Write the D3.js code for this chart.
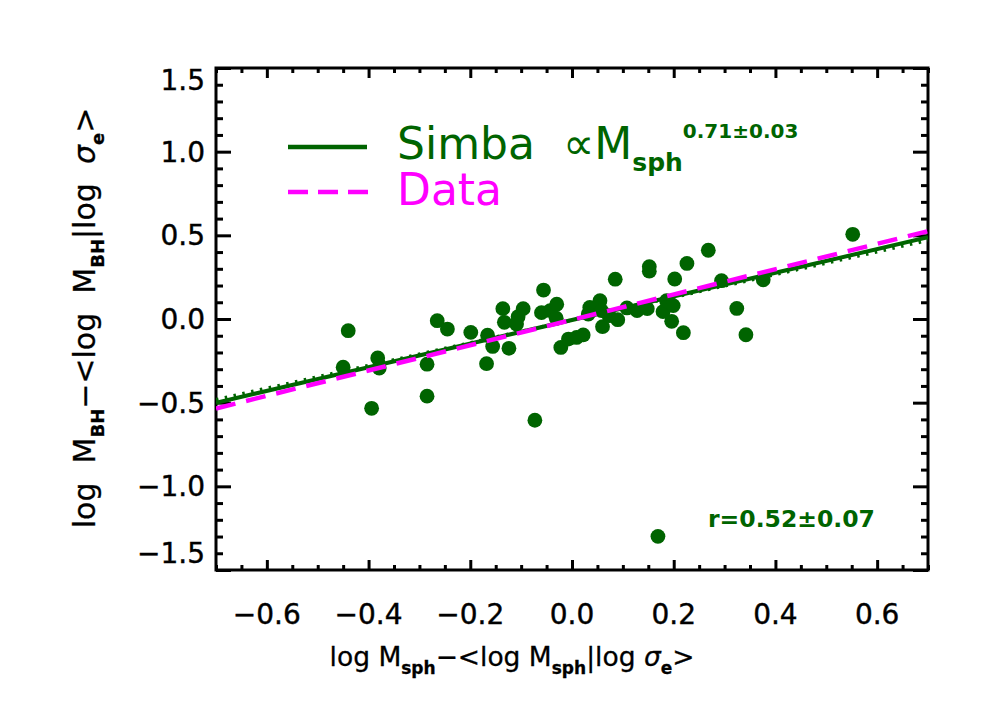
<!DOCTYPE html>
<html><head><meta charset="utf-8">
<script src="https://cdn.jsdelivr.net/npm/d3@7"></script>
<style>
body{margin:0;background:#fff}
text{font-family:"DejaVu Sans",sans-serif;white-space:pre}
</style>
</head><body>
<svg id="chart" width="992" height="708"></svg>
<script>
// ---- data ----
const xValues = [-0.450,-0.440,-0.382,-0.379,-0.394,-0.285,-0.285,-0.265,-0.245,-0.199,
  -0.166,-0.156,-0.168,-0.136,-0.133,-0.124,-0.106,-0.096,-0.109,-0.056,
  -0.060,-0.043,-0.030,-0.031,-0.073,-0.022,-0.007,0.009,0.022,0.035,
  0.032,0.055,0.058,0.060,0.073,0.085,0.090,0.108,0.128,0.148,
  0.152,0.152,0.179,0.186,0.199,0.196,0.202,0.219,0.226,0.268,
  0.294,0.324,0.342,0.376,0.552,0.169];
const yValues = [-0.288,-0.070,-0.233,-0.293,-0.534,-0.270,-0.461,-0.010,-0.060,-0.080,
  -0.097,-0.164,-0.267,0.062,-0.020,-0.175,0.014,0.062,-0.030,0.173,
  0.038,0.050,0.088,0.005,-0.605,-0.170,-0.120,-0.110,-0.095,0.069,
  0.030,0.109,0.050,-0.046,0.020,0.238,-0.004,0.066,0.050,0.062,
  0.313,0.286,0.044,0.109,0.080,-0.014,0.239,-0.082,0.332,0.411,
  0.229,0.063,-0.094,0.234,0.506,-1.299];
const xTickValues = [-0.6,-0.4,-0.2,0.0,0.2,0.4,0.6];
const xTickLabels = ["\u22120.6","\u22120.4","\u22120.2","0.0","0.2","0.4","0.6"];
const yTickValues = [-1.5,-1.0,-0.5,0.0,0.5,1.0,1.5];
const yTickLabels = ["\u22121.5","\u22121.0","\u22120.5","0.0","0.5","1.0","1.5"];
const fitNames = ["Simba","Simba (dotted)","Data"];
const fitSlopes = [0.706,0.680,0.757];
const fitIntercepts = [-0.006,-0.006,-0.005];
const xDomain = [-0.7,0.7];
const yDomain = [-1.5,1.5];

// ---- layout ----
const svg = d3.select("#chart");
const L = 216, R = 928, T = 68, B = 570;
const green = "#006400", magenta = "#ff00ff";
const x = d3.scaleLinear().domain(xDomain).range([L,R]);
const y = d3.scaleLinear().domain(yDomain).range([B,T]);

const xMinor = d3.range(-0.7,0.7001,0.05).map(v=>+v.toFixed(2)).filter(v=>!xTickValues.some(t=>Math.abs(t-v)<1e-6));
const yMinor = d3.range(-1.5,1.5001,0.1).map(v=>+v.toFixed(2)).filter(v=>!yTickValues.some(t=>Math.abs(t-v)<1e-6));

function axisG(axisFn, transform, values, size){
  const g = svg.append("g").attr("transform",transform)
    .call(axisFn.tickValues(values).tickSize(size).tickFormat(""));
  g.select(".domain").remove();
  g.selectAll(".tick line").attr("stroke","#000").attr("stroke-width",3);
  return g;
}
axisG(d3.axisTop(x), `translate(0,${B})`, xTickValues, 10);
axisG(d3.axisTop(x), `translate(0,${B})`, xMinor, 5);
axisG(d3.axisBottom(x), `translate(0,${T})`, xTickValues, 10);
axisG(d3.axisBottom(x), `translate(0,${T})`, xMinor, 5);
axisG(d3.axisRight(y), `translate(${L},0)`, yTickValues, 15);
axisG(d3.axisRight(y), `translate(${L},0)`, yMinor, 7);
axisG(d3.axisLeft(y), `translate(${R},0)`, yTickValues, 15);
axisG(d3.axisLeft(y), `translate(${R},0)`, yMinor, 7);

svg.append("rect").attr("x",L).attr("y",T).attr("width",R-L).attr("height",B-T)
  .attr("fill","none").attr("stroke","#000").attr("stroke-width",3);

// tick labels
svg.append("g").selectAll("text").data(xTickValues).join("text")
  .attr("x",d=>x(d)).attr("y",624).attr("text-anchor","middle")
  .attr("font-size",28).attr("fill","#000").attr("stroke","#000").attr("stroke-width",0.4)
  .text((d,i)=>xTickLabels[i]);
svg.append("g").selectAll("text").data(yTickValues).join("text")
  .attr("x",205)
  .attr("y",d=>{let c=y(d); if(d===1.5) c=80; if(d===-1.5) c=553; return c+10;})
  .attr("text-anchor","end").attr("font-size",28).attr("fill","#000")
  .attr("stroke","#000").attr("stroke-width",0.4)
  .text((d,i)=>yTickLabels[i]);

// points
const pts = xValues.map((v,i)=>({x:v,y:yValues[i]}));
svg.append("g").selectAll("circle").data(pts).join("circle")
  .attr("cx",d=>x(d.x)).attr("cy",d=>y(d.y)).attr("r",7.4).attr("fill",green);

// fit lines
svg.append("clipPath").attr("id","pc").append("rect")
  .attr("x",L).attr("y",T).attr("width",R-L).attr("height",B-T);
const line = d3.line().x(d=>x(d[0])).y(d=>y(d[1]));
const styles = [
  {stroke:green, w:4, dash:null},
  {stroke:green, w:3.5, dash:"2.5,6.5"},
  {stroke:magenta, w:4.5, dash:"20,11"}
];
fitNames.forEach((n,i)=>{
  const pts2 = xDomain.map(xv=>[xv, fitSlopes[i]*xv+fitIntercepts[i]]);
  const p = svg.append("path").attr("d",line(pts2)).attr("fill","none")
    .attr("stroke",styles[i].stroke).attr("stroke-width",styles[i].w)
    .attr("clip-path","url(#pc)");
  if(styles[i].dash) p.attr("stroke-dasharray",styles[i].dash);
});

// legend
svg.append("line").attr("x1",288).attr("x2",367).attr("y1",147).attr("y2",147)
  .attr("stroke",green).attr("stroke-width",4.5);
svg.append("line").attr("x1",288).attr("x2",368).attr("y1",192).attr("y2",192)
  .attr("stroke",magenta).attr("stroke-width",4.5).attr("stroke-dasharray","20,10");
const t1 = svg.append("text").attr("x",397).attr("y",159).attr("font-size",44).attr("fill",green);
t1.append("tspan").text("Simba  \u221DM");
t1.append("tspan").attr("dy",12).attr("font-size",25).attr("font-weight","bold").text("sph");
t1.append("tspan").attr("dy",-33).attr("font-size",20).attr("font-weight","bold").text("0.71\u00B10.03");
svg.append("text").attr("x",397).attr("y",205).attr("font-size",44).attr("fill",magenta).text("Data");

svg.append("text").attr("x",708).attr("y",527).attr("font-size",23.5).attr("font-weight","bold")
  .attr("fill",green).text("r=0.52\u00B10.07");

// axis titles
function title(sel, sub, sp, subSize, shift){
  const parts = [["log"+sp+"M",0],[sub,1],["\u2212<log"+sp+"M",0],[sub,1],["|log"+sp,0],["\u03C3",2],["e",1],[">",0]];
  let shifted=false;
  parts.forEach(([t,k])=>{
    const ts = sel.append("tspan").text(t);
    if(k===1){ ts.attr("font-size",subSize).attr("font-weight","bold").attr("dy",shifted?0:shift); shifted=true; }
    else { if(shifted){ ts.attr("dy",-shift); shifted=false; } if(k===2) ts.attr("font-style","italic"); }
  });
}
const xt = svg.append("text").attr("x",512).attr("y",666).attr("text-anchor","middle")
  .attr("font-size",26.5).attr("fill","#000").attr("stroke","#000").attr("stroke-width",0.3);
title(xt,"sph"," ",17,8);
const yt = svg.append("text").attr("transform","translate(95,318) rotate(-90)")
  .attr("text-anchor","middle").attr("font-size",30).attr("fill","#000")
  .attr("stroke","#000").attr("stroke-width",0.3);
title(yt,"BH","  ",18,9);
</script>
</body></html>
